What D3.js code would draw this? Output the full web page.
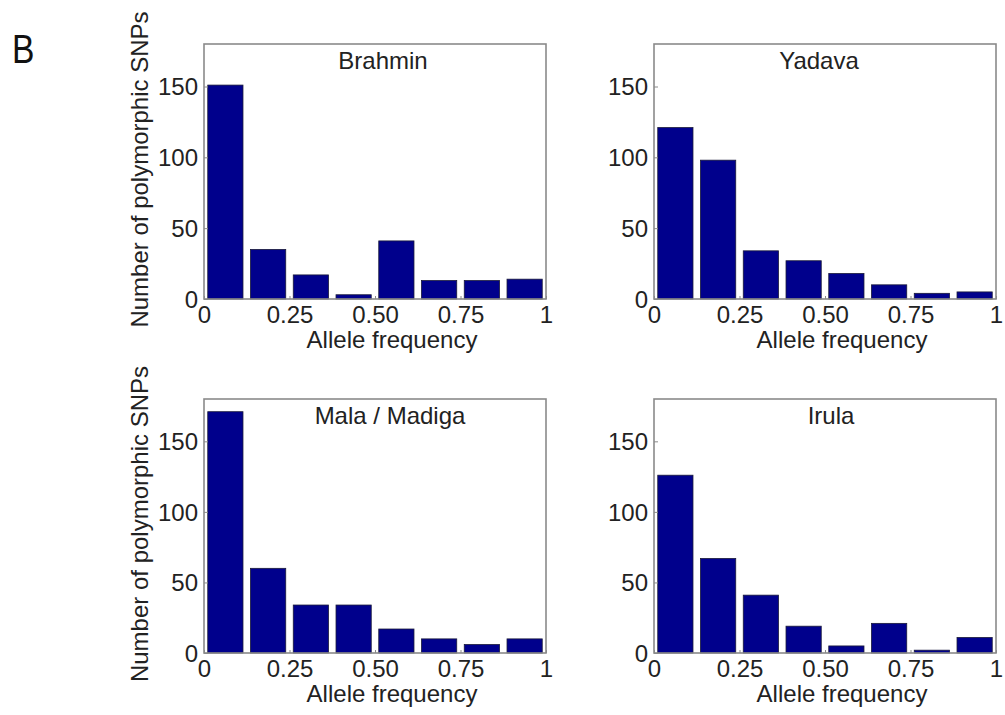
<!DOCTYPE html>
<html>
<head>
<meta charset="utf-8">
<script src="https://cdn.jsdelivr.net/npm/d3@7/dist/d3.min.js"></script>
<style>
  html, body { margin: 0; padding: 0; background: #fff; }
  svg { display: block; }
  text { font-family: "Liberation Sans", Arial, sans-serif; fill: #222; }
</style>
</head>
<body>
<svg id="chart" width="1005" height="715"></svg>
<script>
// Allele-frequency spectra: counts of polymorphic SNPs in 8 frequency bins
const populations = ["Brahmin", "Yadava", "Mala / Madiga", "Irula"];
const binCenters = [0.0625, 0.1875, 0.3125, 0.4375, 0.5625, 0.6875, 0.8125, 0.9375];
const brahmin = [151, 35, 17, 3, 41, 13, 13, 14];
const yadava = [121, 98, 34, 27, 18, 10, 4, 5];
const malaMadiga = [171, 60, 34, 34, 17, 10, 6, 10];
const irula = [126, 67, 41, 19, 5, 21, 2, 11];
const xTicks = [0, 0.25, 0.5, 0.75, 1];
const xTickLabels = ["0", "0.25", "0.50", "0.75", "1"];
const yTicks = [0, 50, 100, 150];
const seriesList = [brahmin, yadava, malaMadiga, irula];

const svg = d3.select("#chart");
const barColor = "#00008c";
const frameColor = "#8a8a8a";
const fontSize = 24;

// panel frames: [left, right, top, bottom]
const frames = [
  [204, 546, 44, 299],
  [654, 996, 44, 299],
  [204, 546, 399, 653],
  [654, 996, 399, 653]
];
const titleShift = [8, -6, 15, 6];

// panel letter
svg.append("text")
  .attr("transform", "translate(12,63) scale(0.82,1)")
  .attr("font-size", 41)
  .style("fill", "#111")
  .text("B");

populations.forEach((name, i) => {
  const [l, r, t, b] = frames[i];
  const values = seriesList[i];
  const x = d3.scaleLinear().domain([0, 1]).range([l, r]);
  const y = d3.scaleLinear().domain([0, 180]).range([b, t]);
  const g = svg.append("g");

  // bars
  const halfWidth = 0.0515;
  g.selectAll("rect.bar")
    .data(values)
    .join("rect")
    .attr("class", "bar")
    .attr("x", (d, k) => x(binCenters[k] - halfWidth))
    .attr("width", (d, k) => x(binCenters[k] + halfWidth) - x(binCenters[k] - halfWidth))
    .attr("y", d => y(d))
    .attr("height", d => y(0) - y(d))
    .attr("fill", barColor)
    .attr("stroke", "#1a1a3a")
    .attr("stroke-width", 0.8);

  // x axis (ticks point inward)
  const xAxis = d3.axisBottom(x)
    .tickValues(xTicks)
    .tickFormat((d, k) => xTickLabels[k])
    .tickSizeInner(-3)
    .tickSizeOuter(0)
    .tickPadding(9);
  const gx = g.append("g").attr("transform", `translate(0,${b})`).call(xAxis);
  gx.select(".domain").remove();
  gx.selectAll(".tick line").attr("stroke", frameColor);
  gx.selectAll(".tick text")
    .attr("font-size", fontSize)
    .attr("dy", null)
    .attr("y", 24)
    .style("font-family", "'Liberation Sans', Arial, sans-serif")
    .style("fill", "#222");

  // y axis (ticks point inward)
  const yAxis = d3.axisLeft(y)
    .tickValues(yTicks)
    .tickSizeInner(-4)
    .tickSizeOuter(0)
    .tickPadding(8);
  const gy = g.append("g").attr("transform", `translate(${l},0)`).call(yAxis);
  gy.select(".domain").remove();
  gy.selectAll(".tick line").attr("stroke", frameColor);
  gy.selectAll(".tick text")
    .attr("font-size", fontSize)
    .attr("x", -6)
    .attr("dy", "0.34em")
    .style("font-family", "'Liberation Sans', Arial, sans-serif")
    .style("fill", "#222");

  // frame
  g.append("rect")
    .attr("x", l).attr("y", t)
    .attr("width", r - l).attr("height", b - t)
    .attr("fill", "none")
    .attr("stroke", frameColor)
    .attr("stroke-width", 1.6);

  // title
  g.append("text")
    .attr("x", (l + r) / 2 + titleShift[i])
    .attr("y", t + 25)
    .attr("text-anchor", "middle")
    .attr("font-size", fontSize)
    .text(name);

  // x label
  g.append("text")
    .attr("x", (l + r) / 2 + 17)
    .attr("y", b + 49)
    .attr("text-anchor", "middle")
    .attr("font-size", fontSize)
    .text("Allele frequency");

  // y label on left column only
  if (i % 2 === 0) {
    g.append("text")
      .attr("transform", `translate(148,${(t + b) / 2 - 2}) rotate(-90)`)
      .attr("text-anchor", "middle")
      .attr("font-size", fontSize)
      .text("Number of polymorphic SNPs");
  }
});
</script>
</body>
</html>
